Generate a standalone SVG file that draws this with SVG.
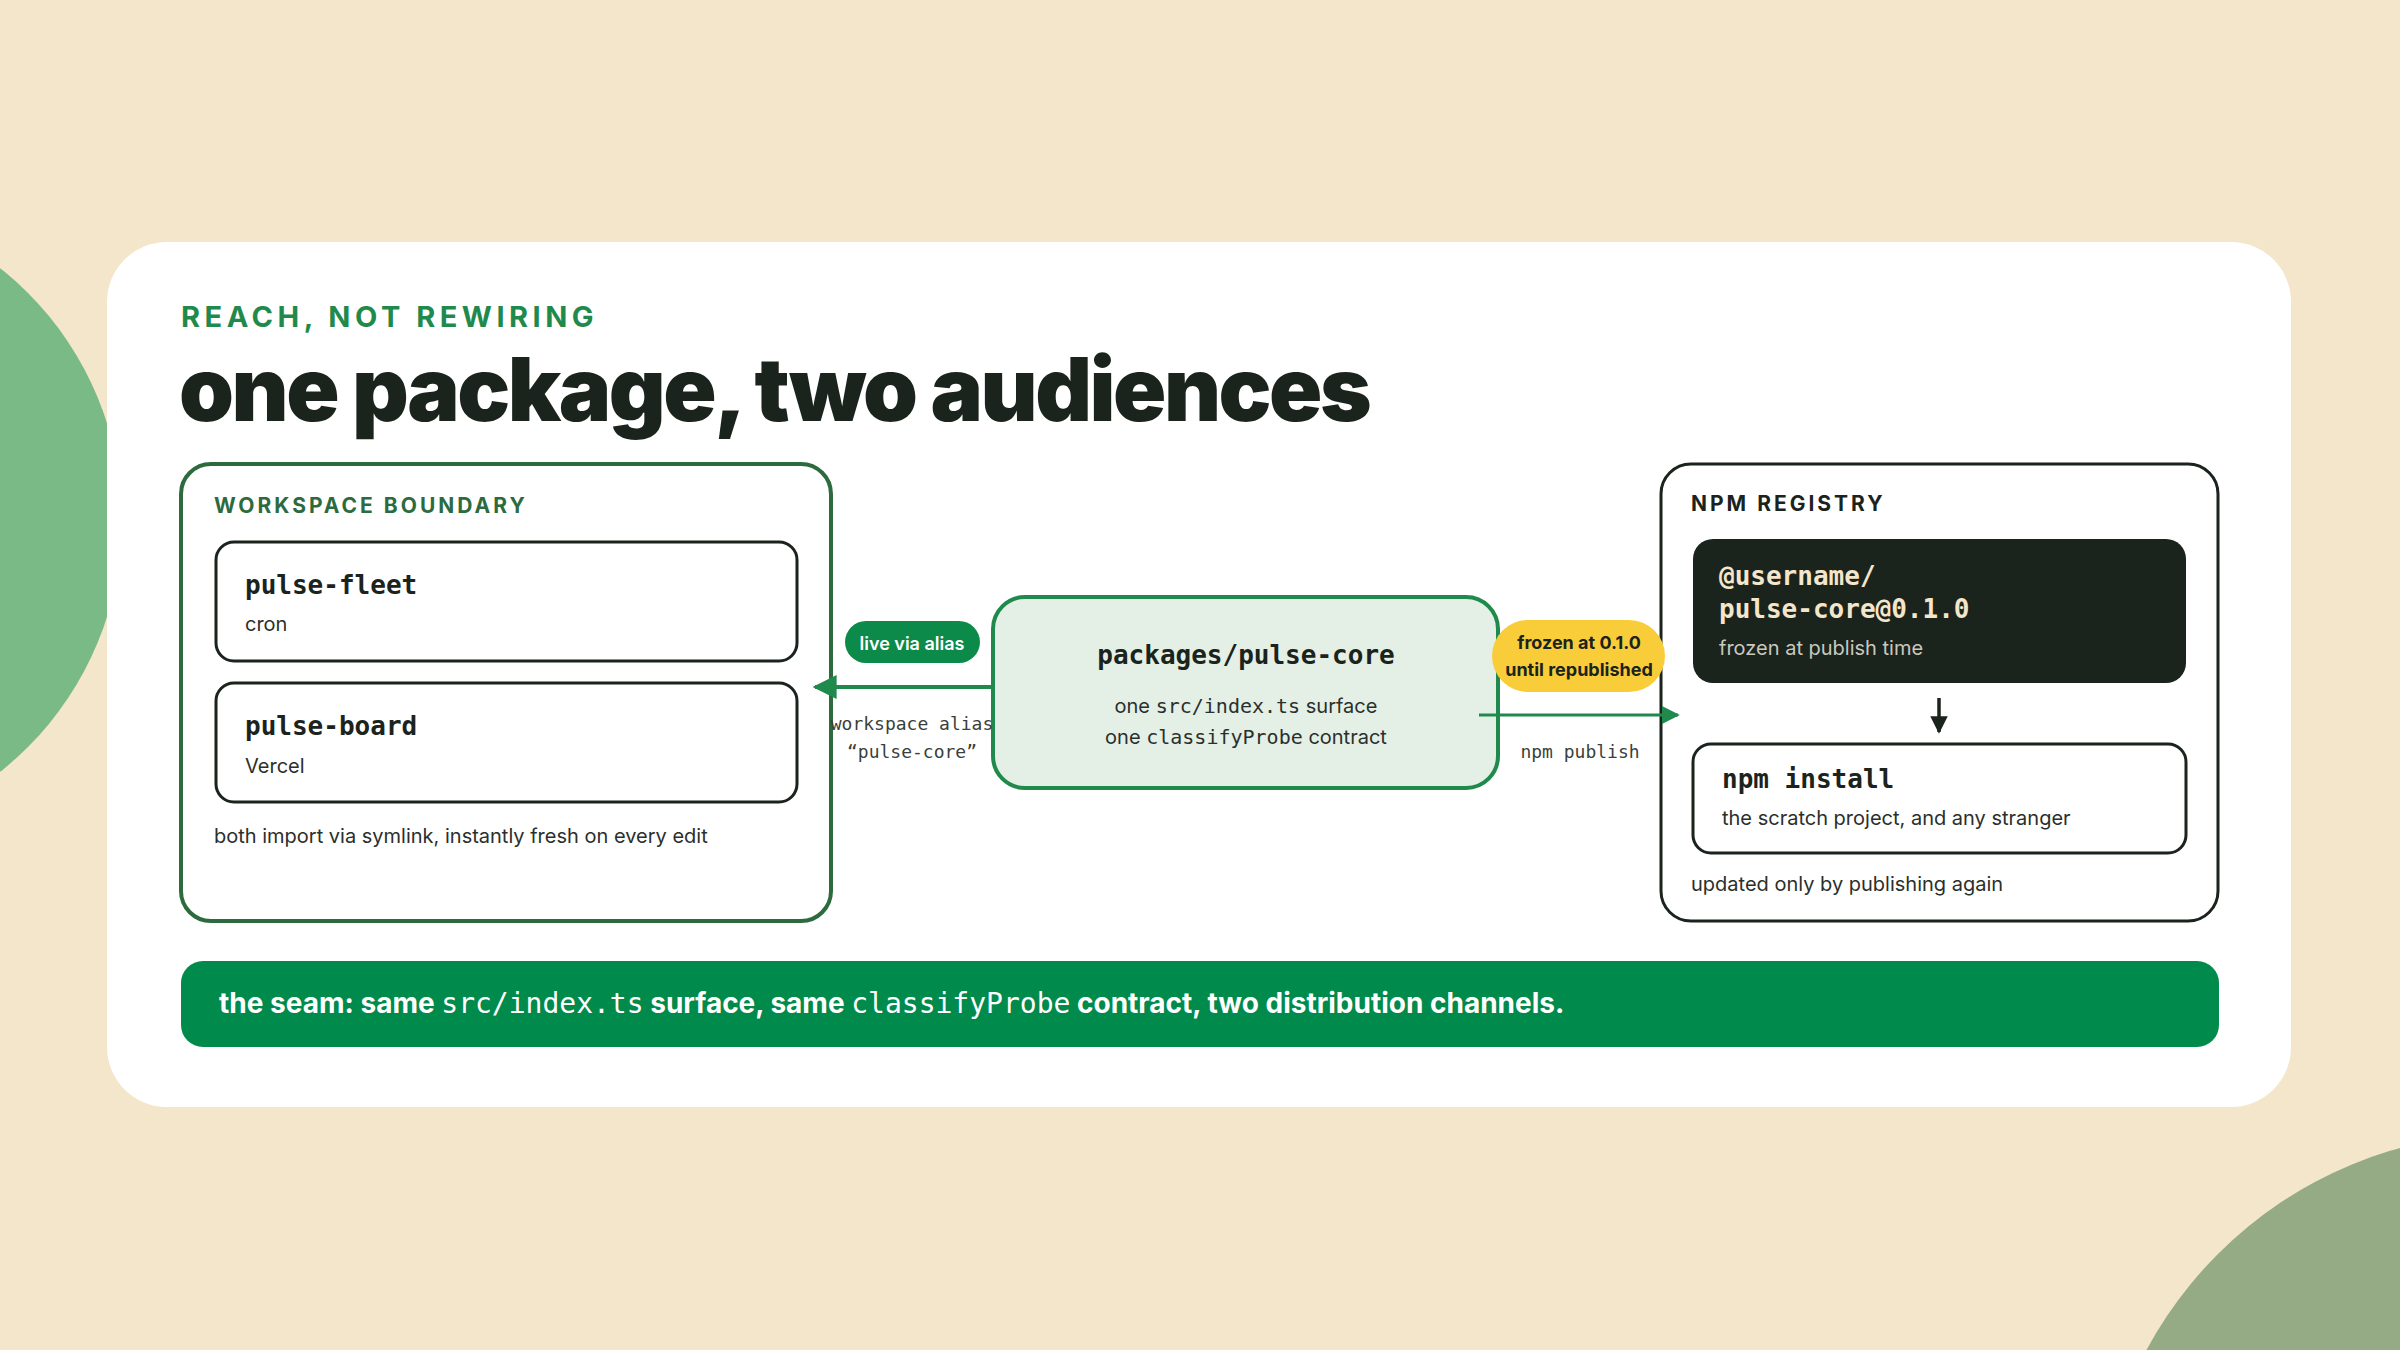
<svg xmlns="http://www.w3.org/2000/svg" width="2400" height="1350" viewBox="0 0 2400 1350">
<defs>
<style>
.sans{font-family:Inter,"Liberation Sans",sans-serif}
.mono{font-family:"DejaVu Sans Mono","Liberation Mono",monospace}
.lbl{font-family:Inter,"Liberation Sans",sans-serif;font-size:21px;font-weight:700;letter-spacing:3px}
.body{font-family:Inter,"Liberation Sans",sans-serif;font-size:20px;fill:#2b2f2c}
.card{fill:#fff;stroke:#1b231d;stroke-width:3}
.name{font-family:"DejaVu Sans Mono","Liberation Mono",monospace;font-size:26px;font-weight:700;fill:#1b231d}
</style>
<marker id="ah" viewBox="0 0 10 10" refX="9" refY="5" markerWidth="6" markerHeight="6" orient="auto-start-reverse"><path d="M0,0L10,5L0,10z" fill="#1f8a4c"/></marker>
<marker id="ahd" viewBox="0 0 10 10" refX="9" refY="5" markerWidth="5" markerHeight="5" orient="auto"><path d="M0,0L10,5L0,10z" fill="#1b231d"/></marker>
</defs>
<rect width="2400" height="1350" fill="#f4e6cb"/>
<circle cx="-199" cy="520" r="321" fill="#7aba87"/>
<circle cx="2510" cy="1546" r="413" fill="#94ab85"/>
<rect x="107" y="242" width="2184" height="865" rx="60" fill="#fff"/>
<text x="181" y="327" class="sans" font-size="29" font-weight="700" fill="#1f8a4c" letter-spacing="4.5">REACH, NOT REWIRING</text>
<text x="179" y="421" class="sans" font-size="88" font-weight="900" fill="#1b231d" letter-spacing="-2.5">one package, two audiences</text>

<g id="workspace">
<rect x="181" y="464" width="650" height="457" rx="30" fill="#fff" stroke="#2d6b3f" stroke-width="4"/>
<text x="214" y="513" class="lbl" fill="#2d6b3f">WORKSPACE BOUNDARY</text>
<text x="214" y="843" class="body">both import via symlink, instantly fresh on every edit</text>
</g>
<g id="pulse-fleet">
<rect x="216" y="542" width="581" height="119" rx="18" class="card"/>
<text x="245" y="594" class="name">pulse-fleet</text>
<text x="245" y="631" class="body">cron</text>
</g>
<g id="pulse-board">
<rect x="216" y="683" width="581" height="119" rx="18" class="card"/>
<text x="245" y="735" class="name">pulse-board</text>
<text x="245" y="773" class="body">Vercel</text>
</g>
<g id="pulse-core">
<rect x="993" y="597" width="505" height="191" rx="32" fill="#e4f0e5" stroke="#1f8a4c" stroke-width="4"/>
<text x="1246" y="664" text-anchor="middle" class="name" font-size="29">packages/pulse-core</text>
<text x="1246" y="713" text-anchor="middle" class="body" font-size="21">one <tspan class="mono">src/index.ts</tspan> surface</text>
<text x="1246" y="744" text-anchor="middle" class="body" font-size="21">one <tspan class="mono">classifyProbe</tspan> contract</text>
</g>
<g id="npm-registry">
<rect x="1661" y="464" width="557" height="457" rx="30" fill="#fff" stroke="#1b231d" stroke-width="3"/>
<text x="1691" y="511" class="lbl" fill="#1b231d">NPM REGISTRY</text>
<text x="1691" y="891" class="body">updated only by publishing again</text>
</g>
<g id="published">
<rect x="1693" y="539" width="493" height="144" rx="20" fill="#1b231d"/>
<text x="1719" y="585" class="name" font-size="24" fill="#f4e6cb" style="fill:#f4e6cb">@username/</text>
<text x="1719" y="618" class="name" font-size="24" style="fill:#f4e6cb">pulse-core@0.1.0</text>
<text x="1719" y="655" class="body" style="fill:#c9c9bd">frozen at publish time</text>
</g>
<g id="npm-install">
<rect x="1693" y="744" width="493" height="109" rx="18" class="card"/>
<text x="1722" y="788" class="name" font-size="25">npm install</text>
<text x="1722" y="825" class="body">the scratch project, and any stranger</text>
</g>
<g id="connectors">
<line x1="993" y1="687" x2="815" y2="687" stroke="#1f8a4c" stroke-width="4" marker-end="url(#ah)"/>
<rect x="845" y="621" width="135" height="42" rx="21" fill="#0b8a4a"/>
<text x="912" y="650" text-anchor="middle" class="sans" font-size="18" font-weight="600" fill="#fff">live via alias</text>
<text x="912" y="730" text-anchor="middle" class="mono" font-size="18" fill="#3b3f3c">workspace alias</text>
<text x="912" y="758" text-anchor="middle" class="mono" font-size="18" fill="#3b3f3c">“pulse-core”</text>
<line x1="1479" y1="715" x2="1678" y2="715" stroke="#1f8a4c" stroke-width="3" marker-end="url(#ah)"/>
<rect x="1492" y="620" width="173" height="72" rx="36" fill="#f9cc3a"/>
<text x="1579" y="649" text-anchor="middle" class="sans" font-size="18" font-weight="700" fill="#1b231d">frozen at 0.1.0</text>
<text x="1579" y="676" text-anchor="middle" class="sans" font-size="18" font-weight="700" fill="#1b231d">until republished</text>
<text x="1580" y="758" text-anchor="middle" class="mono" font-size="18" fill="#3b3f3c">npm publish</text>
<line x1="1939" y1="698" x2="1939" y2="732" stroke="#1b231d" stroke-width="3.5" marker-end="url(#ahd)"/>
</g>
<g id="seam">
<rect x="181" y="961" width="2038" height="86" rx="22" fill="#008a4b"/>
<text x="219" y="1013" class="sans" font-size="28" font-weight="700" fill="#fff">the seam: same <tspan class="mono" font-weight="400">src/index.ts</tspan> surface, same <tspan class="mono" font-weight="400">classifyProbe</tspan> contract, two distribution channels.</text>
</g>
</svg>
